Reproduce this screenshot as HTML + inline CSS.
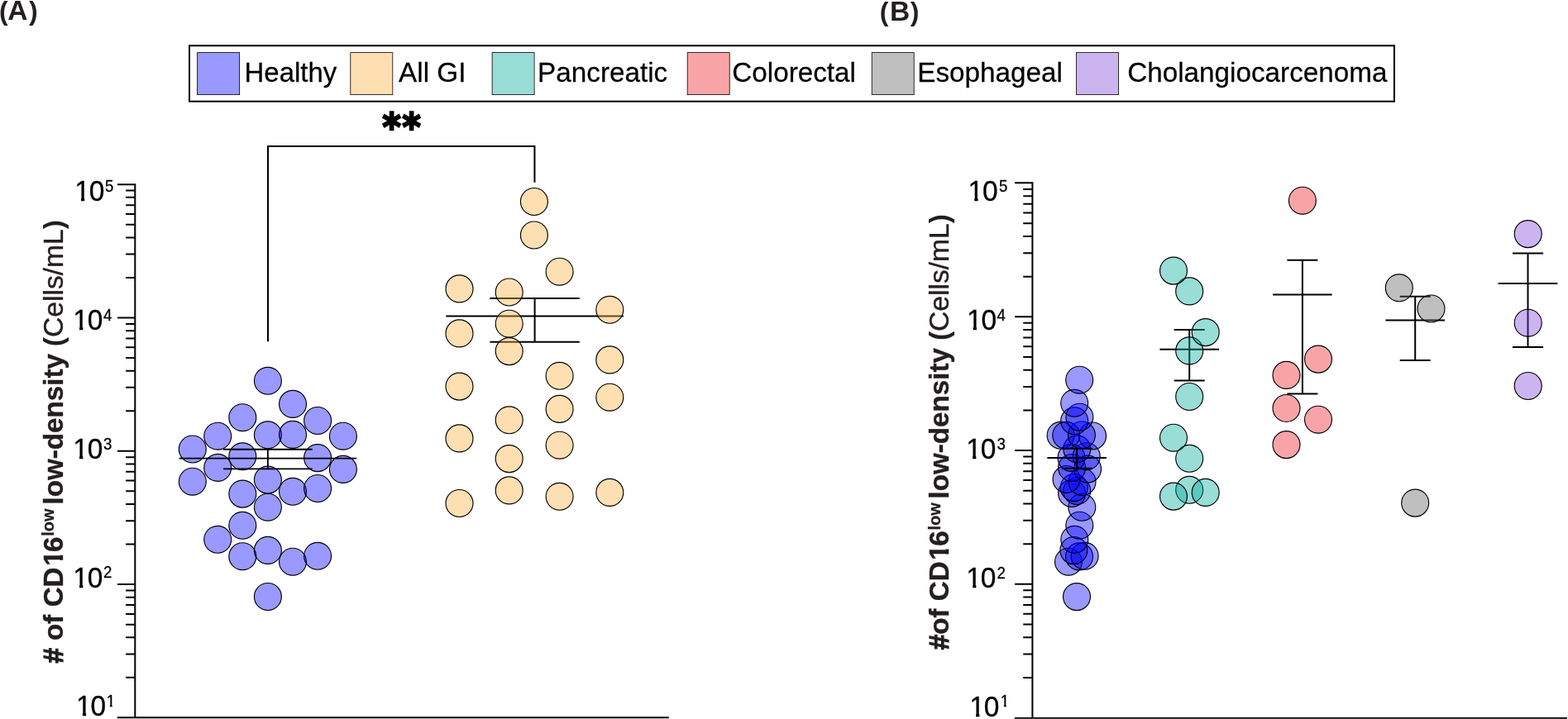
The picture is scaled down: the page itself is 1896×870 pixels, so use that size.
<!DOCTYPE html>
<html lang="en"><head><meta charset="utf-8"><title>CD16 low low-density cells</title>
<style>
html,body{margin:0;padding:0;background:#fff}
body{width:1896px;height:870px;overflow:hidden}
svg{display:block}
text{font-family:"Liberation Sans",sans-serif;fill:#000}
.pl{font-size:33.6px;font-weight:700;fill:#231f20}
.pp{font-size:32px}
.lg{font-size:33.25px;stroke:#000;stroke-width:0.25px}
.tk{font-size:33.5px;stroke:#000;stroke-width:0.3px}
.sp{font-size:18.7px;stroke:#000;stroke-width:0.25px}
.yb{font-size:33.2px;font-weight:700;fill:#231f20;stroke:#231f20;stroke-width:0.4px}
.ys{font-size:20px;font-weight:700;fill:#231f20;stroke:#231f20;stroke-width:0.3px}
.yr{font-size:33.6px;fill:#231f20;stroke:#231f20;stroke-width:0.4px}
.pb{font-weight:700;stroke-width:0}
.hs{stroke:#231f20;stroke-width:1.2px}
.st{font-family:"DejaVu Sans","Liberation Sans",sans-serif;font-weight:700;font-size:43.5px;letter-spacing:1.8px;stroke:#000;stroke-width:2.2px;stroke-linejoin:miter}
</style></head><body>
<svg width="1896" height="870" viewBox="0 0 1896 870">
<defs><clipPath id="kt"><path d="M8.87 -45.00H13.13V4.00H8.87zM-6.00 -45.00H70.00V-3.75H-6.00zM19.00 -45.00H70.00V4.00H19.00z"/></clipPath><clipPath id="kta"><path d="M8.87 -45.00H13.13V4.00H8.87zM-6.00 -45.00H38.32V-3.75H-6.00zM19.00 -45.00H38.32V4.00H19.00zM38.22 -45.00H70.00V-13.54H38.22zM41.93 -45.00H44.73V-7.92H41.93z"/></clipPath><clipPath id="ktb"><path d="M8.87 -45.00H13.13V4.00H8.87zM-6.00 -45.00H39.12V-3.75H-6.00zM19.00 -45.00H39.12V4.00H19.00zM39.02 -45.00H70.00V-13.54H39.02zM42.73 -45.00H45.53V-7.92H42.73z"/></clipPath><clipPath id="kya"><path d="M-6.00 -45.00H640.00V-4.69H-6.00zM-6.00 -45.00H119.09V14.00H-6.00zM124.95 -45.00H130.90V4.00H124.95zM135.94 -45.00H640.00V14.00H135.94z"/></clipPath><clipPath id="kyb"><path d="M-6.00 -45.00H640.00V-4.69H-6.00zM-6.00 -45.00H109.87V14.00H-6.00zM115.72 -45.00H121.68V4.00H115.72zM126.72 -45.00H640.00V14.00H126.72z"/></clipPath></defs>
<rect width="1896" height="870" fill="#fff"/>
<text x="-1.0" y="24.1" class="pl"><tspan class="pp">(</tspan><tspan dx="-0.5">A</tspan><tspan class="pp" dx="1.5">)</tspan></text>
<text x="1063.85" y="25.0" class="pl"><tspan class="pp">(</tspan><tspan dx="1.4">B</tspan><tspan class="pp" dx="0.65">)</tspan></text>
<rect x="229" y="55.25" width="1456.9" height="67.45" fill="#fff" stroke="#000" stroke-width="2"/>
<rect x="238.6" y="63.6" width="51" height="51" fill="rgba(0,0,255,0.40)" stroke="#000" stroke-width="0.8"/>
<text transform="translate(295.5 99.1) scale(1 1.015)" class="lg" style="font-size:33px">Healthy</text>
<rect x="423.8" y="63.6" width="51" height="51" fill="rgba(250,175,60,0.40)" stroke="#000" stroke-width="0.8"/>
<text transform="translate(482.1 99.1) scale(1 1.015)" class="lg">All GI</text>
<rect x="595.1" y="63.6" width="51" height="51" fill="rgba(0,170,155,0.40)" stroke="#000" stroke-width="0.8"/>
<text transform="translate(650.1 99.1) scale(1 1.015)" class="lg">Pancreatic</text>
<rect x="831.2" y="63.6" width="51" height="51" fill="rgba(237,28,36,0.40)" stroke="#000" stroke-width="0.8"/>
<text transform="translate(885.3 99.1) scale(1 1.015)" class="lg">Colorectal</text>
<rect x="1054.2" y="63.6" width="51" height="51" fill="rgba(96,96,96,0.40)" stroke="#000" stroke-width="0.8"/>
<text transform="translate(1109.2 99.1) scale(1 1.015)" class="lg">Esophageal</text>
<rect x="1301.5" y="63.6" width="51" height="51" fill="rgba(128,68,218,0.40)" stroke="#000" stroke-width="0.8"/>
<text transform="translate(1363.2 99.1) scale(1 1.015)" class="lg">Cholangiocarcenoma</text>
<text transform="translate(462.6 170.2) scale(0.977 1.069)" class="st">**</text>
<path d="M324 413.2V177H646.45V220.8" fill="none" stroke="#000" stroke-width="2"/>
<path d="M163.30 222.20V868.20 M142.00 223.20H163.30 M152.10 335.94H163.30 M152.10 307.54H163.30 M152.10 287.39H163.30 M152.10 271.76H163.30 M152.10 258.98H163.30 M152.10 248.19H163.30 M152.10 238.83H163.30 M152.10 230.58H163.30 M142.00 384.50H163.30 M152.10 497.24H163.30 M152.10 468.84H163.30 M152.10 448.69H163.30 M152.10 433.06H163.30 M152.10 420.28H163.30 M152.10 409.49H163.30 M152.10 400.13H163.30 M152.10 391.88H163.30 M142.00 545.80H163.30 M152.10 658.54H163.30 M152.10 630.14H163.30 M152.10 609.99H163.30 M152.10 594.36H163.30 M152.10 581.58H163.30 M152.10 570.79H163.30 M152.10 561.43H163.30 M152.10 553.18H163.30 M142.00 707.10H163.30 M152.10 819.84H163.30 M152.10 791.44H163.30 M152.10 771.29H163.30 M152.10 755.66H163.30 M152.10 742.88H163.30 M152.10 732.09H163.30 M152.10 722.73H163.30 M152.10 714.48H163.30 " fill="none" stroke="#000" stroke-width="2.0"/>
<path d="M141.70 868.20H808.70" fill="none" stroke="#000" stroke-width="2.1"/>
<text transform="translate(89.1 243.2) scale(1 1.035)" class="tk" clip-path="url(#kt)"><tspan dx="1.1">1</tspan><tspan dx="-1.1">0</tspan><tspan class="sp" dx="0.64" dy="-10.92">5</tspan></text>
<text transform="translate(87.2 398.8) scale(1 1.035)" class="tk" clip-path="url(#kt)"><tspan dx="1.1">1</tspan><tspan dx="-1.1">0</tspan><tspan class="sp" dx="0.44" dy="-10.92">4</tspan></text>
<text transform="translate(87.2 554.8) scale(1 1.035)" class="tk" clip-path="url(#kt)"><tspan dx="1.1">1</tspan><tspan dx="-1.1">0</tspan><tspan class="sp" dx="0.44" dy="-10.92">3</tspan></text>
<text transform="translate(87.2 710.5) scale(1 1.035)" class="tk" clip-path="url(#kt)"><tspan dx="1.1">1</tspan><tspan dx="-1.1">0</tspan><tspan class="sp" dx="0.44" dy="-10.92">2</tspan></text>
<text transform="translate(91.0 866.2) scale(1 1.035)" class="tk" clip-path="url(#kta)"><tspan dx="1.1">1</tspan><tspan dx="-1.1">0</tspan><tspan class="sp" dx="0.54" dy="-10.92">1</tspan></text>
<text transform="translate(75.8 802.6) rotate(-90) scale(1 1.015)" clip-path="url(#kya)"><tspan class="yb"><tspan class="hs">#</tspan> of CD<tspan dx="1.7">1</tspan><tspan dx="-1.7">6</tspan></tspan><tspan class="ys" x="153.93" dy="-10.54">low</tspan><tspan class="yb" x="182.80" dy="10.54"> low-density </tspan><tspan class="yr" x="383.43"><tspan class="pb">(</tspan>Cells/mL<tspan class="pb">)</tspan></tspan></text>
<g fill="rgba(0,0,255,0.40)" stroke="#000" stroke-width="1.15">
<circle cx="323.9" cy="722.0" r="16.47"/>
<circle cx="354.0" cy="679.7" r="16.47"/>
<circle cx="293.3" cy="673.2" r="16.47"/>
<circle cx="384.1" cy="672.8" r="16.47"/>
<circle cx="323.9" cy="665.9" r="16.47"/>
<circle cx="263.2" cy="652.8" r="16.47"/>
<circle cx="293.3" cy="635.8" r="16.47"/>
<circle cx="323.9" cy="613.7" r="16.47"/>
<circle cx="293.3" cy="597.6" r="16.47"/>
<circle cx="354.0" cy="594.8" r="16.47"/>
<circle cx="384.1" cy="591.0" r="16.47"/>
<circle cx="232.8" cy="582.7" r="16.47"/>
<circle cx="323.9" cy="580.6" r="16.47"/>
<circle cx="414.9" cy="567.9" r="16.47"/>
<circle cx="263.2" cy="565.9" r="16.47"/>
<circle cx="384.1" cy="554.1" r="16.47"/>
<circle cx="293.3" cy="552.3" r="16.47"/>
<circle cx="232.8" cy="543.5" r="16.47"/>
<circle cx="263.2" cy="527.7" r="16.47"/>
<circle cx="414.9" cy="527.7" r="16.47"/>
<circle cx="323.9" cy="526.3" r="16.47"/>
<circle cx="354.0" cy="525.9" r="16.47"/>
<circle cx="384.1" cy="509.0" r="16.47"/>
<circle cx="293.3" cy="505.2" r="16.47"/>
<circle cx="354.0" cy="488.9" r="16.47"/>
<circle cx="323.9" cy="460.8" r="16.47"/>
</g>
<path d="M216.60 554.55H431.20 M270.10 543.75H377.70 M270.10 567.45H377.70 M323.90 543.75V567.45" fill="none" stroke="#000" stroke-width="1.8"/>
<path d="M539.30 382.50H753.90 M592.40 361.00H700.80 M592.40 413.85H700.80 M646.60 361.00V413.85" fill="none" stroke="#000" stroke-width="2.0"/>
<g fill="rgba(250,175,60,0.40)" stroke="#000" stroke-width="1.15">
<circle cx="555.5" cy="609.0" r="16.47"/>
<circle cx="676.6" cy="600.8" r="16.47"/>
<circle cx="737.3" cy="595.9" r="16.47"/>
<circle cx="615.7" cy="593.4" r="16.47"/>
<circle cx="615.7" cy="555.1" r="16.47"/>
<circle cx="676.6" cy="538.7" r="16.47"/>
<circle cx="555.5" cy="530.4" r="16.47"/>
<circle cx="615.7" cy="508.3" r="16.47"/>
<circle cx="676.6" cy="494.9" r="16.47"/>
<circle cx="737.3" cy="480.7" r="16.47"/>
<circle cx="555.5" cy="467.6" r="16.47"/>
<circle cx="676.6" cy="454.8" r="16.47"/>
<circle cx="737.3" cy="435.4" r="16.47"/>
<circle cx="615.7" cy="425.1" r="16.47"/>
<circle cx="555.5" cy="403.4" r="16.47"/>
<circle cx="615.7" cy="391.7" r="16.47"/>
<circle cx="737.3" cy="374.8" r="16.47"/>
<circle cx="615.7" cy="353.5" r="16.47"/>
<circle cx="555.5" cy="349.4" r="16.47"/>
<circle cx="676.6" cy="328.7" r="16.47"/>
<circle cx="645.9" cy="284.5" r="16.47"/>
<circle cx="645.9" cy="244.0" r="16.47"/>
</g>
<path d="M1248.40 220.30V868.85 M1227.10 221.30H1248.40 M1237.20 334.66H1248.40 M1237.20 306.18H1248.40 M1237.20 285.97H1248.40 M1237.20 270.29H1248.40 M1237.20 257.48H1248.40 M1237.20 246.66H1248.40 M1237.20 237.28H1248.40 M1237.20 229.00H1248.40 M1227.10 383.35H1248.40 M1237.20 496.41H1248.40 M1237.20 467.93H1248.40 M1237.20 447.72H1248.40 M1237.20 432.04H1248.40 M1237.20 419.23H1248.40 M1237.20 408.41H1248.40 M1237.20 399.03H1248.40 M1237.20 390.75H1248.40 M1227.10 545.10H1248.40 M1237.20 658.16H1248.40 M1237.20 629.68H1248.40 M1237.20 609.47H1248.40 M1237.20 593.79H1248.40 M1237.20 580.98H1248.40 M1237.20 570.16H1248.40 M1237.20 560.78H1248.40 M1237.20 552.50H1248.40 M1227.10 706.85H1248.40 M1237.20 819.91H1248.40 M1237.20 791.43H1248.40 M1237.20 771.22H1248.40 M1237.20 755.54H1248.40 M1237.20 742.73H1248.40 M1237.20 731.91H1248.40 M1237.20 722.53H1248.40 M1237.20 714.25H1248.40 " fill="none" stroke="#000" stroke-width="2.0"/>
<path d="M1226.80 868.85H1895.00" fill="none" stroke="#000" stroke-width="1.9"/>
<text transform="translate(1169.4 243.2) scale(1 1.035)" class="tk" clip-path="url(#kt)"><tspan dx="1.1">1</tspan><tspan dx="-1.1">0</tspan><tspan class="sp" dx="1.24" dy="-10.92">5</tspan></text>
<text transform="translate(1167.8 398.9) scale(1 1.035)" class="tk" clip-path="url(#kt)"><tspan dx="1.1">1</tspan><tspan dx="-1.1">0</tspan><tspan class="sp" dx="0.34" dy="-10.92">4</tspan></text>
<text transform="translate(1167.2 554.8) scale(1 1.035)" class="tk" clip-path="url(#kt)"><tspan dx="1.1">1</tspan><tspan dx="-1.1">0</tspan><tspan class="sp" dx="0.94" dy="-10.92">3</tspan></text>
<text transform="translate(1167.2 710.8) scale(1 1.035)" class="tk" clip-path="url(#kt)"><tspan dx="1.1">1</tspan><tspan dx="-1.1">0</tspan><tspan class="sp" dx="0.94" dy="-10.92">2</tspan></text>
<text transform="translate(1171.2 866.6) scale(1 1.035)" class="tk" clip-path="url(#ktb)"><tspan dx="1.1">1</tspan><tspan dx="-1.1">0</tspan><tspan class="sp" dx="1.34" dy="-10.92">1</tspan></text>
<text transform="translate(1147.4 786.3) rotate(-90) scale(1 1.015)" clip-path="url(#kyb)"><tspan class="yb"><tspan class="hs">#</tspan>of CD<tspan dx="1.7">1</tspan><tspan dx="-1.7">6</tspan></tspan><tspan class="ys" x="144.70" dy="-10.54">low</tspan><tspan class="yb" x="173.58" dy="10.54"> low-density </tspan><tspan class="yr" x="374.20"><tspan class="pb">(</tspan>Cells/mL<tspan class="pb">)</tspan></tspan></text>
<g fill="rgba(0,0,255,0.40)" stroke="#000" stroke-width="1.15">
<circle cx="1302.0" cy="722.1" r="16.47"/>
<circle cx="1292.0" cy="679.7" r="16.47"/>
<circle cx="1305.0" cy="673.4" r="16.47"/>
<circle cx="1311.6" cy="672.8" r="16.47"/>
<circle cx="1298.4" cy="666.1" r="16.47"/>
<circle cx="1299.3" cy="652.8" r="16.47"/>
<circle cx="1305.3" cy="635.7" r="16.47"/>
<circle cx="1308.3" cy="613.8" r="16.47"/>
<circle cx="1296.1" cy="597.0" r="16.47"/>
<circle cx="1302.2" cy="594.0" r="16.47"/>
<circle cx="1298.8" cy="590.1" r="16.47"/>
<circle cx="1308.5" cy="583.0" r="16.47"/>
<circle cx="1289.5" cy="580.0" r="16.47"/>
<circle cx="1315.1" cy="567.6" r="16.47"/>
<circle cx="1296.1" cy="566.0" r="16.47"/>
<circle cx="1295.5" cy="553.9" r="16.47"/>
<circle cx="1313.7" cy="552.2" r="16.47"/>
<circle cx="1302.3" cy="543.3" r="16.47"/>
<circle cx="1321.1" cy="527.5" r="16.47"/>
<circle cx="1282.6" cy="526.8" r="16.47"/>
<circle cx="1289.2" cy="526.8" r="16.47"/>
<circle cx="1307.9" cy="526.5" r="16.47"/>
<circle cx="1299.2" cy="509.3" r="16.47"/>
<circle cx="1305.4" cy="504.7" r="16.47"/>
<circle cx="1299.2" cy="487.8" r="16.47"/>
<circle cx="1305.2" cy="459.7" r="16.47"/>
</g>
<path d="M1266.30 554.05H1337.90 M1283.50 542.80H1320.70 M1283.50 566.80H1320.70 M1302.10 542.80V566.80" fill="none" stroke="#000" stroke-width="2.0"/>
<path d="M1402.40 422.80H1474.00 M1419.70 398.90H1456.70 M1419.70 460.40H1456.70 M1438.20 398.90V460.40" fill="none" stroke="#000" stroke-width="2.0"/>
<path d="M1539.10 356.60H1610.70 M1556.40 314.80H1593.40 M1556.40 476.50H1593.40 M1574.90 314.80V476.50" fill="none" stroke="#000" stroke-width="2.0"/>
<path d="M1675.40 387.40H1747.00 M1692.70 358.70H1729.70 M1692.70 436.00H1729.70 M1711.20 358.70V436.00" fill="none" stroke="#000" stroke-width="2.0"/>
<path d="M1811.70 343.10H1883.30 M1828.90 306.40H1866.10 M1828.90 420.10H1866.10 M1847.50 306.40V420.10" fill="none" stroke="#000" stroke-width="2.0"/>
<g fill="rgba(0,170,155,0.40)" stroke="#000" stroke-width="1.15">
<circle cx="1438.2" cy="592.8" r="16.47"/>
<circle cx="1438.2" cy="554.8" r="16.47"/>
<circle cx="1438.2" cy="480.0" r="16.47"/>
<circle cx="1438.2" cy="424.4" r="16.47"/>
<circle cx="1438.2" cy="352.4" r="16.47"/>
<circle cx="1419.0" cy="600.6" r="16.47"/>
<circle cx="1457.7" cy="595.9" r="16.47"/>
<circle cx="1419.0" cy="529.7" r="16.47"/>
<circle cx="1457.7" cy="402.1" r="16.47"/>
<circle cx="1419.0" cy="327.6" r="16.47"/>
</g>
<g fill="rgba(237,28,36,0.40)" stroke="#000" stroke-width="1.15">
<circle cx="1555.5" cy="538.1" r="16.47"/>
<circle cx="1594.0" cy="507.7" r="16.47"/>
<circle cx="1555.5" cy="494.0" r="16.47"/>
<circle cx="1555.5" cy="453.9" r="16.47"/>
<circle cx="1594.0" cy="434.6" r="16.47"/>
<circle cx="1574.9" cy="242.7" r="16.47"/>
</g>
<g fill="rgba(96,96,96,0.40)" stroke="#000" stroke-width="1.15">
<circle cx="1711.2" cy="608.6" r="16.47"/>
<circle cx="1730.5" cy="373.5" r="16.47"/>
<circle cx="1691.8" cy="348.3" r="16.47"/>
</g>
<g fill="rgba(128,68,218,0.40)" stroke="#000" stroke-width="1.15">
<circle cx="1847.7" cy="467.0" r="16.47"/>
<circle cx="1847.7" cy="390.7" r="16.47"/>
<circle cx="1847.7" cy="283.1" r="16.47"/>
</g>
</svg></body></html>
